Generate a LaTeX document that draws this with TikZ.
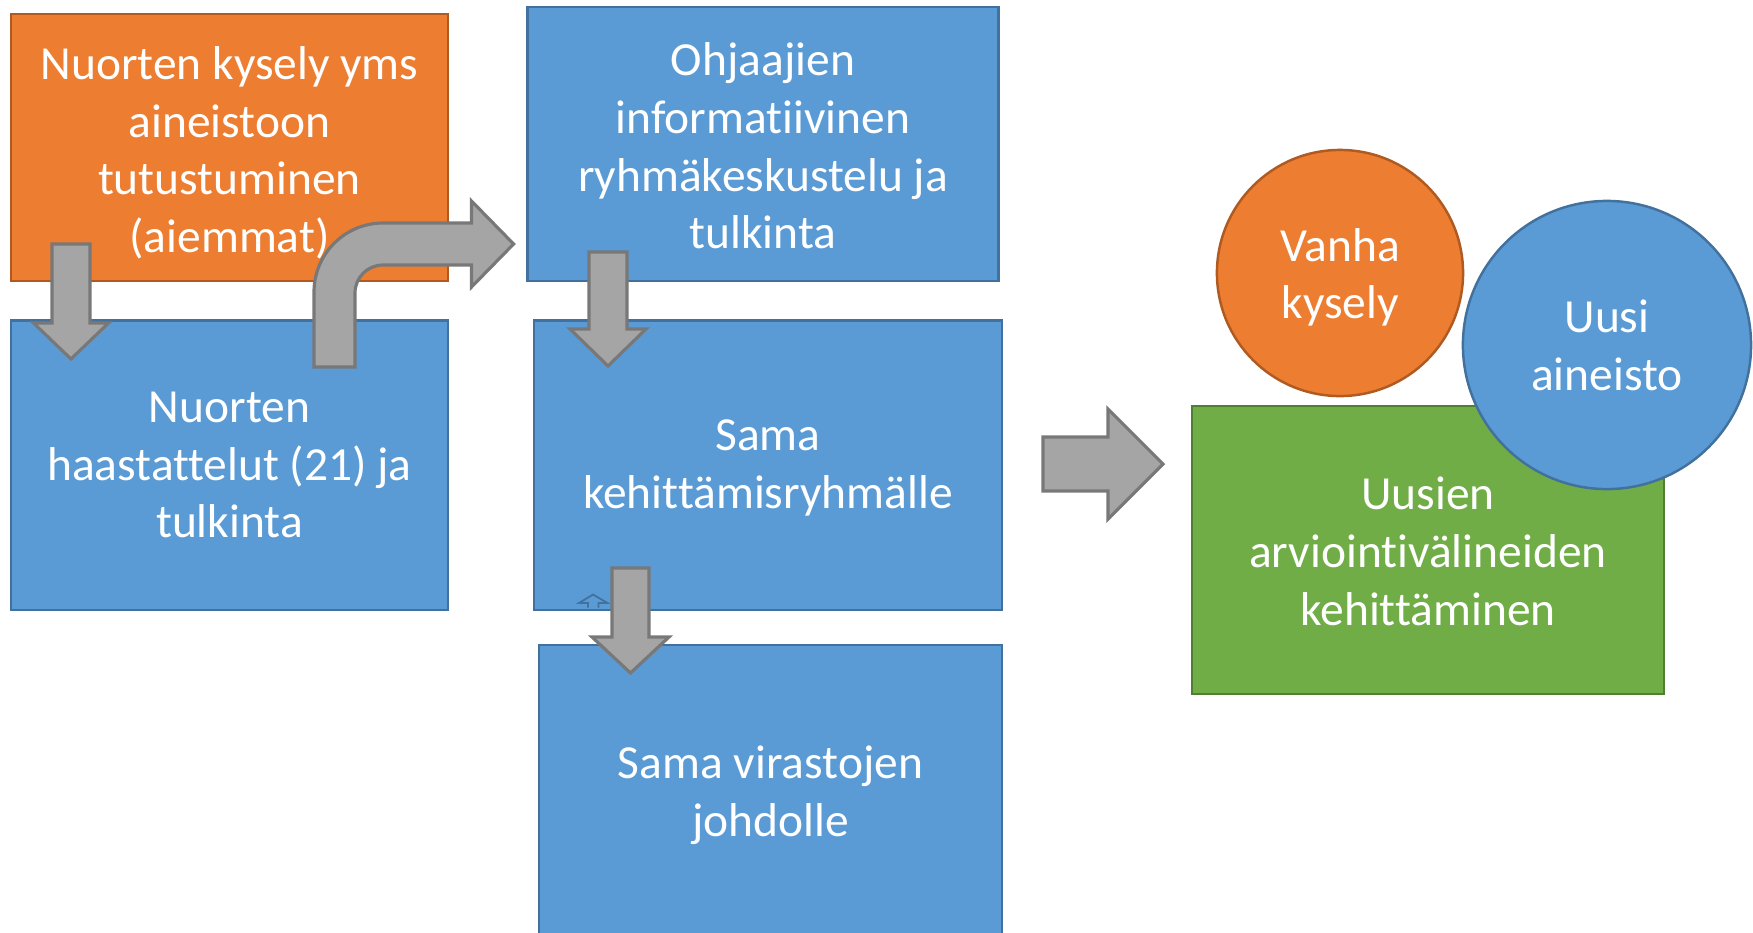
\documentclass[tikz,border=0pt]{standalone}
\usepackage{fontspec}
\setmainfont{Carlito}[Ligatures=NoCommon]
\usetikzlibrary{positioning}

\definecolor{ofcorange}{HTML}{ED7D31}
\definecolor{ofcorangeline}{HTML}{AE5A21}
\definecolor{ofcblue}{HTML}{5B9BD5}
\definecolor{ofcblueline}{HTML}{41719C}
\definecolor{ofcgreen}{HTML}{70AD47}
\definecolor{ofcgreenline}{HTML}{507E32}
\definecolor{ofcgray}{HTML}{A5A5A5}
\definecolor{ofcgrayline}{HTML}{787878}

% down block arrow: centre x, top, wing y, tip y, half shaft, half head
\newcommand{\blockdown}[6]{%
    \draw[blockarrow] ({#1-#5},#2) -- ({#1+#5},#2) -- ({#1+#5},#3) -- ({#1+#6},#3)
        -- (#1,#4) -- ({#1-#6},#3) -- ({#1-#5},#3) -- cycle;}
% taller first line, pushes the text block down
\newcommand{\dropline}[1]{\rule{0pt}{#1}}

\begin{document}
\begin{tikzpicture}[
                x=0.01cm, y=-0.01cm,
                box/.style={rectangle, draw, line width=0.7pt, text=white,
                    align=center, inner sep=0pt,
                    font=\fontsize{13.5}{16.4}\selectfont},
                orangebox/.style={box, fill=ofcorange, draw=ofcorangeline},
                bluebox/.style={box, fill=ofcblue, draw=ofcblueline},
                greenbox/.style={box, fill=ofcgreen, draw=ofcgreenline},
                orangeball/.style={box, circle, fill=ofcorange, draw=ofcorangeline},
                blueball/.style={box, circle, fill=ofcblue, draw=ofcblueline},
                blockarrow/.style={fill=ofcgray, draw=ofcgrayline,
                    line width=0.9pt, line join=miter}]
            \useasboundingbox (0,0) rectangle (1753,932);
            \clip (0,0) rectangle (1753,932);

            % first column
            \node[orangebox, minimum width=4.37cm, minimum height=2.67cm]
                (kysely) at (229.5,147.5)
                {\dropline{12.4pt}Nuorten kysely yms\\aineistoon\\tutustuminen\\(aiemmat)};
            \node[bluebox, minimum width=4.37cm, minimum height=2.89cm]
                (haast) [below=0.37cm of kysely]
                {Nuorten\\haastattelut (21) ja\\tulkinta};

            % second column
            \node[bluebox, minimum width=4.71cm, minimum height=2.74cm]
                (ohjaaj) at (763,144)
                {\dropline{10.6pt}Ohjaajien\\informatiivinen\\ryhmäkeskustelu ja\\tulkinta};
            \node[bluebox, minimum width=4.68cm, minimum height=2.89cm]
                (kehitt) [below=0.37cm of ohjaaj, xshift=0.05cm]
                {\dropline{10.4pt}Sama\\kehittämisryhmälle};
            \node[bluebox, minimum width=4.63cm, minimum height=2.90cm]
                (viras) at (770.5,790)
                {\dropline{12.1pt}Sama virastojen\\johdolle};

            % result
            \node[greenbox, minimum width=4.72cm, minimum height=2.88cm]
                (uudet) at (1428,550)
                {\dropline{10.1pt}Uusien\\arviointivälineiden\\kehittäminen};
            \node[orangeball, minimum size=2.46cm] (vanha) at (1340,273)
                {\dropline{11.8pt}Vanha\\kysely};
            \node[blueball, minimum size=2.88cm] (uusi) at (1607,345)
                {Uusi\\aineisto};

            % arrows
            \blockdown{71}{244}{323}{359}{19}{37.5}
            \blockdown{608}{252}{329}{366}{19}{38}
            \draw[draw=ofcblueline, line width=0.5pt]
                (588,607.5) -- (588,603) -- (579,603) -- (593,594.5)
                -- (607.5,603) -- (598.5,603) -- (598.5,607.5);
            \blockdown{630.5}{568}{637}{673}{18.5}{38.5}
            \draw[blockarrow] (314,367) -- (314,292)
                .. controls (314,253.9) and (344.9,223) .. (383,223)
                -- (471.5,223) -- (471.5,201) -- (513.6,244) -- (471.5,287)
                -- (471.5,265) -- (383,265)
                .. controls (367.5,265) and (355,277.5) .. (355,293)
                -- (355,367) -- cycle;
            \draw[blockarrow] (1043,437) -- (1108,437) -- (1108,409)
                -- (1163,464) -- (1108,519) -- (1108,491) -- (1043,491) -- cycle;
        \end{tikzpicture}
\end{document}
